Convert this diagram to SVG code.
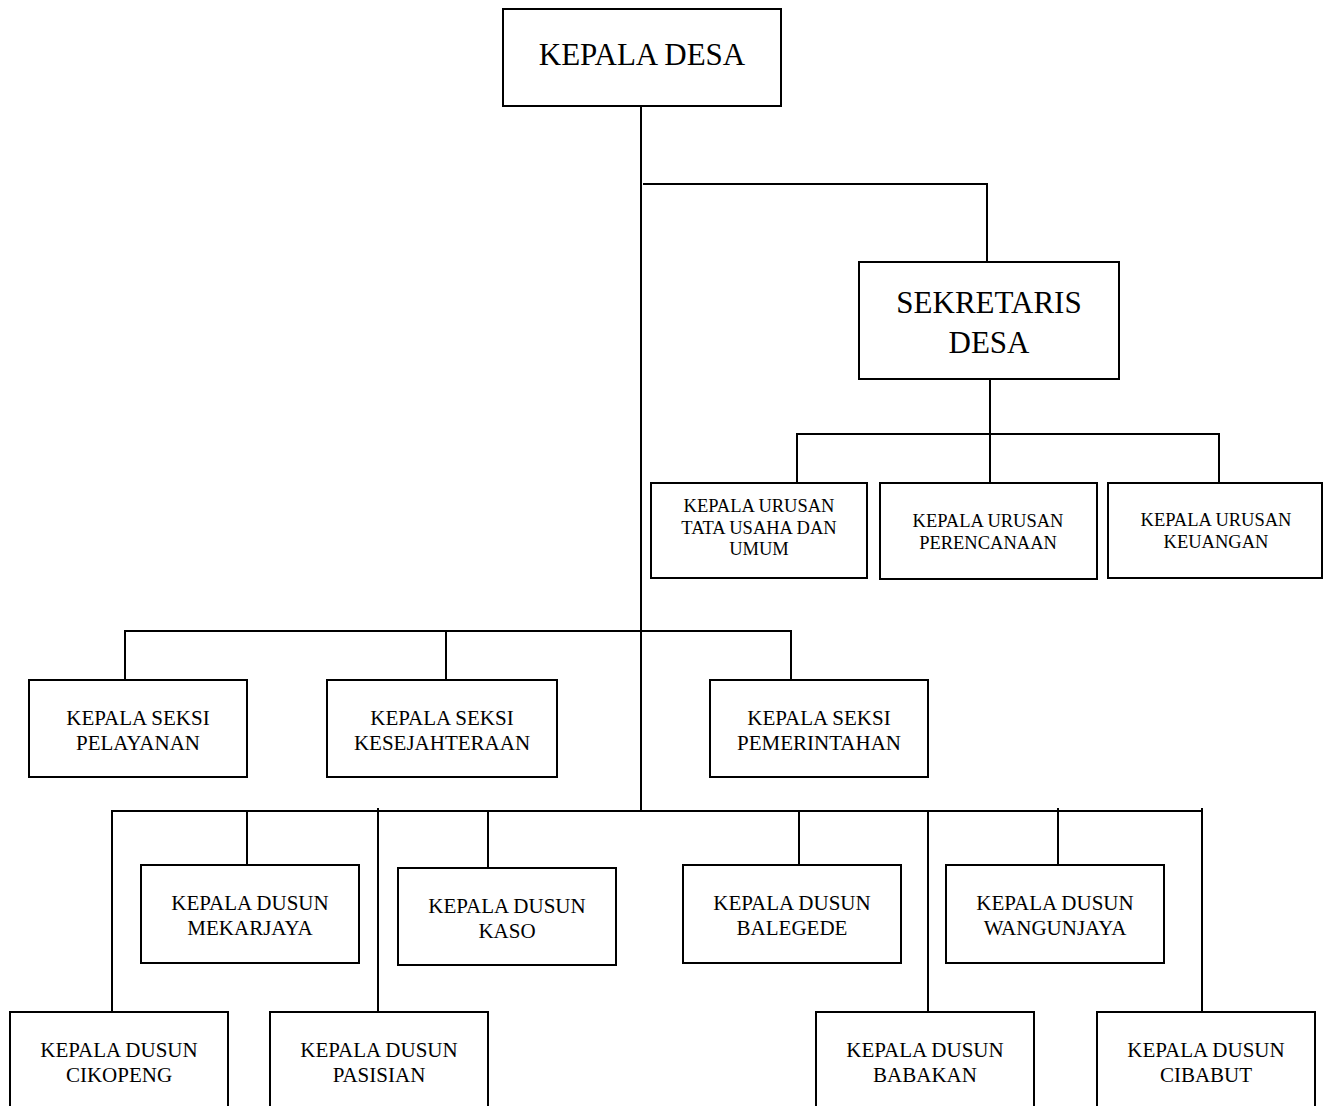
<svg xmlns="http://www.w3.org/2000/svg" width="1324" height="1106" viewBox="0 0 1324 1106">
<style>
.box{fill:#fff;stroke:#000;stroke-width:2}
.ln{fill:none;stroke:#000;stroke-width:2}
text{font-family:"Liberation Serif","Times New Roman",serif;fill:#000;text-anchor:middle}
.big{font-size:31px}
.mid{font-size:21px}
.sm{font-size:18.5px}
</style>
<rect width="1324" height="1106" fill="#fff"/>
<g id="connectors">
<path class="ln" d="M641,106 V811"/>
<path class="ln" d="M643,184 H987 V262"/>
<path class="ln" d="M990,379 V483"/>
<path class="ln" d="M797,483 V434 H1219 V483"/>
<path class="ln" d="M125,680 V631 H791 V680"/>
<path class="ln" d="M446,631 V680"/>
<path class="ln" d="M112,1013 V811 H1202 V1012"/>
<path class="ln" d="M1202,808 V811"/>
<path class="ln" d="M247,811 V866"/>
<path class="ln" d="M378,808 V1012"/>
<path class="ln" d="M488,811 V868"/>
<path class="ln" d="M799,811 V865"/>
<path class="ln" d="M928,811 V1014"/>
<path class="ln" d="M1058,808 V865"/>
</g>
<g id="kepala-desa">
<rect class="box" x="503" y="9" width="278" height="97"/>
<text class="big" x="642" y="65">KEPALA DESA</text>
</g>
<g id="sekretaris-desa">
<rect class="box" x="859" y="262" width="260" height="117"/>
<text class="big" x="989" y="313">SEKRETARIS</text>
<text class="big" x="989" y="353">DESA</text>
</g>
<g id="kaur-tu">
<rect class="box" x="651" y="483" width="216" height="95"/>
<text class="sm" x="759" y="512">KEPALA URUSAN</text>
<text class="sm" x="759" y="534">TATA USAHA DAN</text>
<text class="sm" x="759" y="555">UMUM</text>
</g>
<g id="kaur-perencanaan">
<rect class="box" x="880" y="483" width="217" height="96"/>
<text class="sm" x="988" y="527">KEPALA URUSAN</text>
<text class="sm" x="988" y="549">PERENCANAAN</text>
</g>
<g id="kaur-keuangan">
<rect class="box" x="1108" y="483" width="214" height="95"/>
<text class="sm" x="1216" y="526">KEPALA URUSAN</text>
<text class="sm" x="1216" y="548">KEUANGAN</text>
</g>
<g id="kasi-pelayanan">
<rect class="box" x="29" y="680" width="218" height="97"/>
<text class="mid" x="138" y="725">KEPALA SEKSI</text>
<text class="mid" x="138" y="750">PELAYANAN</text>
</g>
<g id="kasi-kesejahteraan">
<rect class="box" x="327" y="680" width="230" height="97"/>
<text class="mid" x="442" y="725">KEPALA SEKSI</text>
<text class="mid" x="442" y="750">KESEJAHTERAAN</text>
</g>
<g id="kasi-pemerintahan">
<rect class="box" x="710" y="680" width="218" height="97"/>
<text class="mid" x="819" y="725">KEPALA SEKSI</text>
<text class="mid" x="819" y="750">PEMERINTAHAN</text>
</g>
<g id="dusun-mekarjaya">
<rect class="box" x="141" y="865" width="218" height="98"/>
<text class="mid" x="250" y="910">KEPALA DUSUN</text>
<text class="mid" x="250" y="935">MEKARJAYA</text>
</g>
<g id="dusun-kaso">
<rect class="box" x="398" y="868" width="218" height="97"/>
<text class="mid" x="507" y="913">KEPALA DUSUN</text>
<text class="mid" x="507" y="938">KASO</text>
</g>
<g id="dusun-balegede">
<rect class="box" x="683" y="865" width="218" height="98"/>
<text class="mid" x="792" y="910">KEPALA DUSUN</text>
<text class="mid" x="792" y="935">BALEGEDE</text>
</g>
<g id="dusun-wangunjaya">
<rect class="box" x="946" y="865" width="218" height="98"/>
<text class="mid" x="1055" y="910">KEPALA DUSUN</text>
<text class="mid" x="1055" y="935">WANGUNJAYA</text>
</g>
<g id="dusun-cikopeng">
<rect class="box" x="10" y="1012" width="218" height="110"/>
<text class="mid" x="119" y="1057">KEPALA DUSUN</text>
<text class="mid" x="119" y="1082">CIKOPENG</text>
</g>
<g id="dusun-pasisian">
<rect class="box" x="270" y="1012" width="218" height="110"/>
<text class="mid" x="379" y="1057">KEPALA DUSUN</text>
<text class="mid" x="379" y="1082">PASISIAN</text>
</g>
<g id="dusun-babakan">
<rect class="box" x="816" y="1012" width="218" height="110"/>
<text class="mid" x="925" y="1057">KEPALA DUSUN</text>
<text class="mid" x="925" y="1082">BABAKAN</text>
</g>
<g id="dusun-cibabut">
<rect class="box" x="1097" y="1012" width="218" height="110"/>
<text class="mid" x="1206" y="1057">KEPALA DUSUN</text>
<text class="mid" x="1206" y="1082">CIBABUT</text>
</g>
</svg>
